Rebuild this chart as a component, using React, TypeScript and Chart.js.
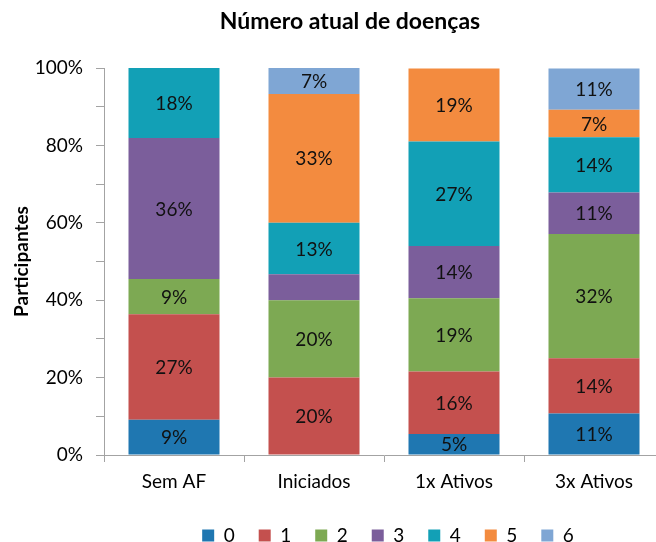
import React, { useEffect, useRef } from "react";
import { Chart, registerables } from "chart.js";

Chart.register(...registerables);

const TITLE = "Número atual de doenças";
const Y_TITLE = "Participantes";
const categories = ["Sem AF", "Iniciados", "1x Ativos", "3x Ativos"];
const seriesNames = ["0", "1", "2", "3", "4", "5", "6"];
const seriesColors = ["#1F77B1", "#C4504E", "#7DA953", "#7B5E9B", "#12A0B6", "#F38B3F", "#7FA6D4"];

// percentages per series (one value per category)
const s0 = [9.1, 0, 5.4, 10.7];
const s1 = [27.3, 20.0, 16.2, 14.3];
const s2 = [9.1, 20.0, 18.9, 32.1];
const s3 = [36.4, 6.7, 13.5, 10.7];
const s4 = [18.2, 13.3, 27.0, 14.3];
const s5 = [0, 33.3, 18.9, 7.1];
const s6 = [0, 6.7, 0, 10.7];
const seriesValues = [s0, s1, s2, s3, s4, s5, s6];

// segments whose value label is not shown in the reference: [series, category]
const hiddenLabels = [[3, 1]];

const yTicks = [0, 10, 20, 30, 40, 50, 60, 70, 80, 90, 100];
const yLabelled = [0, 20, 40, 60, 80, 100];

const FONT = 'Lato, "Open Sans", sans-serif';
const AXIS = "#A3A3A3";

const labelPlugin = {
  id: "segLabels",
  afterDatasetsDraw(chart: any) {
    const ctx = chart.ctx;
    ctx.save();
    ctx.font = `19px ${FONT}`;
    ctx.fillStyle = "#111";
    ctx.textAlign = "center";
    ctx.textBaseline = "middle";
    chart.data.datasets.forEach((ds: any, di: number) => {
      const meta = chart.getDatasetMeta(di);
      meta.data.forEach((bar: any, i: number) => {
        const v = ds.data[i];
        if (!v) return;
        if (hiddenLabels.some(([s, c]) => s === di && c === i)) return;
        const p = bar.getProps(["x", "y", "base"], true);
        ctx.fillText(Math.round(v) + "%", p.x, (p.y + p.base) / 2 + 1);
      });
    });
    ctx.restore();
  },
};

const titlePlugin = {
  id: "topTitle",
  afterDraw(chart: any) {
    const ctx = chart.ctx;
    ctx.save();
    ctx.font = `bold 23px ${FONT}`;
    ctx.fillStyle = "#000";
    ctx.textAlign = "center";
    ctx.textBaseline = "middle";
    ctx.fillText(TITLE, 350, 22);
    ctx.restore();
  },
};

export default function App() {
  const ref = useRef<HTMLCanvasElement | null>(null);
  useEffect(() => {
    if (!ref.current) return;
    Chart.defaults.font.family = FONT;
    const chart = new Chart(ref.current, {
      type: "bar",
      data: {
        labels: categories,
        datasets: seriesNames.map((n, i) => ({
          label: n,
          data: seriesValues[i],
          backgroundColor: seriesColors[i],
          borderWidth: 0,
          categoryPercentage: 1,
          barPercentage: 0.65,
          yAxisID: "y",
        })),
      },
      options: {
        animation: false,
        responsive: false,
        devicePixelRatio: 1,
        layout: { padding: { top: 68, left: 0, right: 0, bottom: 0 } },
        plugins: {
          title: { display: false },
          tooltip: { enabled: false },
          legend: {
            display: true,
            position: "bottom",
            labels: {
              boxWidth: 12,
              boxHeight: 12,
              padding: 24,
              color: "#000",
              font: { size: 19, family: FONT },
            },
          },
        },
        scales: {
          x: {
            stacked: true,
            grid: { display: true, drawOnChartArea: false, tickLength: 7, color: AXIS, offset: true },
            border: { display: true, color: AXIS },
            ticks: { color: "#000", padding: 8, font: { size: 19, family: FONT } },
            afterFit: (s: any) => { s.height = 47; },
          },
          y: {
            stacked: true,
            min: 0,
            max: 100,
            afterBuildTicks: (s: any) => { s.ticks = yTicks.map((v) => ({ value: v })); },
            ticks: {
              color: "#000",
              padding: 13,
              autoSkip: false,
              font: { size: 19, family: FONT },
              callback: (v: any) => (yLabelled.includes(Number(v)) ? v + "%" : ""),
            },
            grid: { display: true, drawOnChartArea: false, tickLength: 8, color: AXIS },
            border: { display: true, color: AXIS },
            title: {
              display: true,
              text: Y_TITLE,
              color: "#000",
              font: { size: 19, weight: "bold", family: FONT },
              padding: { top: 10, bottom: 0 },
            },
            afterFit: (s: any) => { s.width = 104; },
          },
          y2: {
            type: "linear",
            position: "right",
            display: true,
            grid: { display: false },
            ticks: { display: false },
            border: { display: false },
            afterFit: (s: any) => { s.width = 112; },
          },
        },
      } as any,
      plugins: [labelPlugin, titlePlugin],
    });
    return () => chart.destroy();
  }, []);
  return (
    <div style={{ position: "absolute", left: 0, top: 0, width: 656, height: 542, overflow: "hidden", background: "#fff" }}>
      <canvas ref={ref} width={776} height={555} style={{ display: "block" }} />
    </div>
  );
}
